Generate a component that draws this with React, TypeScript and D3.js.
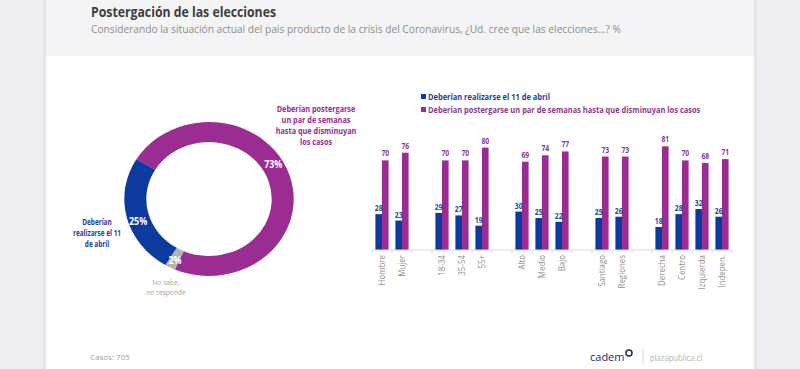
import React from 'react'
import * as d3 from 'd3'

// donut data
const donutLabels = ['Deberían postergarse un par de semanas hasta que disminuyan los casos', 'No sabe, no responde', 'Deberían realizarse el 11 de abril']
const donutValues = [73, 2, 25]
const donutColors = ['#9a2c92', '#b3b3b3', '#0d3a9e']

// bar chart data
const groups = [
  ['Hombre', 'Mujer'],
  ['18-34', '35-54', '55+'],
  ['Alto', 'Medio', 'Bajo'],
  ['Santiago', 'Regiones'],
  ['Derecha', 'Centro', 'Izquierda', 'Indepen.']
]
const realizarse = [28, 23, 29, 27, 19, 30, 25, 22, 25, 26, 18, 28, 32, 26]
const postergarse = [70, 76, 70, 70, 80, 69, 74, 77, 73, 73, 81, 70, 68, 71]
const seriesNames = ['Deberían realizarse el 11 de abril', 'Deberían postergarse un par de semanas hasta que disminuyan los casos']

const BLUE = '#0d3a9e'
const MAGENTA = '#9a2c92'
const FONT = "'Open Sans', sans-serif"

// narrow text: the original uses a condensed face, so squeeze Open Sans horizontally
function NText({ x, y, sx = 0.82, lines, lineH = 11, rotate = 0, ...rest }: any) {
  const tf = `translate(${x},${y})` + (rotate ? ` rotate(${rotate})` : '') + ` scale(${sx},1)`
  return (
    <text transform={tf} {...rest}>
      {lines.map((t: string, i: number) => (
        <tspan key={i} x={0} y={i * lineH}>{t}</tspan>
      ))}
    </text>
  )
}

export default function App() {
  // ---- donut ----
  const cx = 209, cy = 199, rOuter = 77, rInner = 57, stretch = 1.1
  const pie = d3.pie<number>().sort(null).startAngle(-59 * Math.PI / 180).endAngle(301 * Math.PI / 180)
  const arcs = pie(donutValues)
  const arc = d3.arc<d3.PieArcDatum<number>>().innerRadius(rInner).outerRadius(rOuter)
  const labelR = 68
  // excel puts the value labels a bit before the middle of each slice
  const labelPos = (a: d3.PieArcDatum<number>) => {
    const ang = a.startAngle + (a.endAngle - a.startAngle) * 0.45
    return [Math.sin(ang) * labelR * stretch, -Math.cos(ang) * labelR]
  }

  // ---- bars ----
  const slots: string[] = []
  groups.forEach((g, i) => {
    if (i > 0) slots.push('gap' + i)
    g.forEach(c => slots.push(c))
  })
  const categories = groups.flat()
  const x = d3.scaleBand().domain(slots).range([372, 732])
  const y = d3.scaleLinear().domain([0, 100]).range([250, 122])
  const barW = 6.6
  const boundaries = d3.range(slots.length + 1).map(i => 372 + i * x.step())

  return (
    <svg width={800} height={369} style={{ position: 'absolute', left: 0, top: 0 }} fontFamily={FONT}>
      <rect x={0} y={0} width={800} height={369} fill="#efeff3" />
      <rect x={43} y={0} width={714} height={369} fill="#e4e4e8" />
      <rect x={46} y={0} width={708} height={369} fill="#ffffff" />
      <rect x={46} y={0} width={708} height={56} fill="#f4f4f6" />

      <text x={91} y={17} fontSize={14} fontWeight="bold" fill="#3d3d3d" textLength={185} lengthAdjust="spacingAndGlyphs">Postergación de las elecciones</text>
      <text x={91} y={33} fontSize={11} fill="#8c8c8c" textLength={530} lengthAdjust="spacingAndGlyphs">Considerando la situación actual del país producto de la crisis del Coronavirus, ¿Ud. cree que las elecciones…? %</text>

      {/* donut */}
      <g transform={`translate(${cx},${cy}) scale(${stretch},1)`}>
        {arcs.map((a, i) => (
          <path key={i} d={arc(a) || ''} fill={donutColors[i]} />
        ))}
      </g>
      {arcs.map((a, i) => {
        const [lx, ly] = labelPos(a)
        return (
          <NText key={i} x={cx + lx} y={cy + ly + 4} sx={0.85} lines={[donutValues[i] + '%']}
            textAnchor="middle" fontSize={10.5} fontWeight="bold" fill="#ffffff" />
        )
      })}
      <NText x={316} y={112} sx={0.86} lines={['Deberían postergarse', 'un par de semanas', 'hasta que disminuyan', 'los casos']}
        textAnchor="middle" fontSize={8.5} fontWeight="bold" fill={MAGENTA} />
      <NText x={97} y={225} sx={0.76} lines={['Deberían', 'realizarse el 11', 'de abril']}
        textAnchor="middle" fontSize={8.5} fontWeight="bold" fill="#1f3f96" />
      <NText x={166} y={285} sx={0.84} lineH={10} lines={['No sabe,', 'no responde']}
        textAnchor="middle" fontSize={8} fill="#a6a6a6" />

      {/* legend */}
      {seriesNames.map((s, i) => (
        <g key={s}>
          <rect x={421} y={94 + i * 13} width={5} height={5} fill={i === 0 ? BLUE : MAGENTA} />
          <NText x={428} y={100 + i * 13} sx={0.83} lines={[s]} fontSize={9} fontWeight="bold" fill={i === 0 ? '#1f3f96' : '#8e3a8a'} />
        </g>
      ))}

      {/* bars */}
      {categories.map((c, i) => {
        const cxb = (x(c) as number) + x.bandwidth() / 2
        return (
          <g key={c}>
            <rect x={cxb - barW} y={y(realizarse[i])} width={barW} height={y(0) - y(realizarse[i])} fill={BLUE} />
            <rect x={cxb} y={y(postergarse[i])} width={barW} height={y(0) - y(postergarse[i])} fill={MAGENTA} />
            <NText x={cxb - barW / 2} y={y(realizarse[i]) - 3} sx={0.85} lines={[String(realizarse[i])]}
              textAnchor="middle" fontSize={8} fontWeight="bold" fill="#2a4a9a" />
            <NText x={cxb + barW / 2} y={y(postergarse[i]) - 4} sx={0.85} lines={[String(postergarse[i])]}
              textAnchor="middle" fontSize={8} fontWeight="bold" fill="#8e3a8a" />
            <NText x={cxb + 3} y={255} rotate={-90} sx={0.88} lines={[c]} textAnchor="end" fontSize={9} fill="#8f8f8f" />
          </g>
        )
      })}
      <line x1={372} x2={732} y1={y(0)} y2={y(0)} stroke="#d9d9d9" strokeWidth={1} />
      {boundaries.map((b, i) => (
        <line key={i} x1={b} x2={b} y1={y(0)} y2={y(0) + 3} stroke="#d9d9d9" strokeWidth={1} />
      ))}

      {/* footer */}
      <text x={90} y={360} fontSize={8} fill="#a0a0a0">Casos: 705</text>
      <text x={590} y={361} fontSize={11} fill="#1c2b5e">cadem</text>
      <circle cx={629} cy={353} r={3} fill="none" stroke="#1c2b5e" strokeWidth={1.5} />
      <line x1={643} x2={643} y1={348} y2={364} stroke="#d9d9d9" />
      <NText x={650} y={361} sx={0.85} lines={['plazapublica.cl']} fontSize={9} fill="#b3b3b3" />
    </svg>
  )
}
